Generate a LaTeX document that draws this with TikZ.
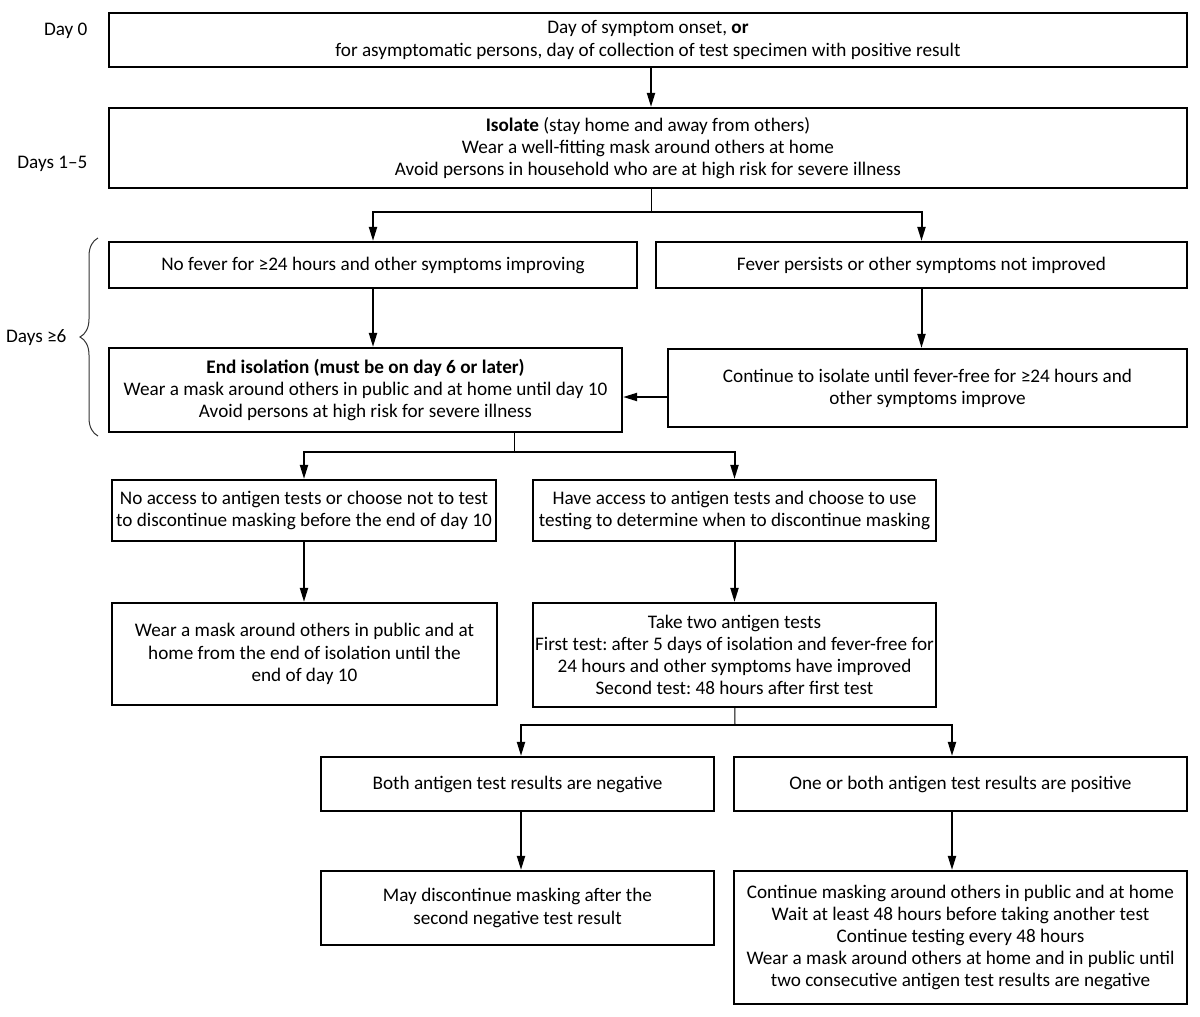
\documentclass[tikz,border=0pt]{standalone}
\usepackage{fontspec}
\setmainfont{Carlito}
\frenchspacing
\usetikzlibrary{arrows.meta,decorations.pathreplacing}

\begin{document}
\begin{tikzpicture}[x=1pt,y=-1pt,
  every node/.style={font=\fontsize{19.2}{22.2}\selectfont},
  box/.style={draw,line width=2.2pt,align=center,inner sep=0pt},
  arr/.style={line width=2pt,-{Triangle[width=8pt,length=14pt]}},
  stem/.style={line width=1pt}]
\useasboundingbox (0,0) rectangle (1200,1017);
% day labels
\node[anchor=east] (day0) at (91,31) {Day 0};
\node[anchor=east] (day15) at (91,164) {Days 1--5};
\node[anchor=east] (day6) at (70,338) {Days ≥6};
\draw[decorate,decoration={brace,amplitude=18pt,mirror},line width=1pt,black!80] (98,238) -- (98,436);
% boxes
\node[box,minimum width=1078,minimum height=54] (onset) at (648,40) {Day of symptom onset, \textbf{or}\\for asymptomatic persons, day of collection of test specimen with positive result};
\node[box,minimum width=1078,minimum height=80] (iso) at (648,148) {\textbf{Isolate} (stay home and away from others)\\Wear a well-fitting mask around others at home\\Avoid persons in household who are at high risk for severe illness};
\node[box,minimum width=528,minimum height=46] (nofever) at (373,265) {No fever for ≥24 hours and other symptoms improving};
\node[box,minimum width=531,minimum height=46] (fever) at (921.5,265) {Fever persists or other symptoms not improved};
\node[box,minimum width=513,minimum height=84] (endiso) at (365.5,390) {\textbf{End isolation (must be on day 6 or later)}\\Wear a mask around others in public and at home until day 10\\Avoid persons at high risk for severe illness};
\node[box,minimum width=519,minimum height=78] (cont) at (927.5,388) {Continue to isolate until fever-free for ≥24 hours and\\other symptoms improve};
\node[box,minimum width=384,minimum height=61] (noaccess) at (304,510.5) {No access to antigen tests or choose not to test\\to discontinue masking before the end of day 10};
\node[box,minimum width=403,minimum height=61] (access) at (734.5,510.5) {Have access to antigen tests and choose to use\\testing to determine when to discontinue masking};
\node[box,minimum width=385,minimum height=102] (mask10) at (304.5,654) {Wear a mask around others in public and at\\home from the end of isolation until the\\end of day 10};
\node[box,minimum width=403,minimum height=104] (twotests) at (734.5,655) {Take two antigen tests\\First test: after 5 days of isolation and fever-free for\\24 hours and other symptoms have improved\\Second test: 48 hours after first test};
\node[box,minimum width=393,minimum height=54] (neg) at (517.5,784) {Both antigen test results are negative};
\node[box,minimum width=453,minimum height=54] (pos) at (960.5,784) {One or both antigen test results are positive};
\node[box,minimum width=393,minimum height=74] (maydisc) at (517.5,908) {May discontinue masking after the\\second negative test result};
\node[box,minimum width=453,minimum height=133] (contmask) at (960.5,937.5) {Continue masking around others in public and at home\\Wait at least 48 hours before taking another test\\Continue testing every 48 hours\\Wear a mask around others at home and in public until\\two consecutive antigen test results are negative};
% branch points
\coordinate (split1) at (651,212);
\coordinate (split2) at (514,452);
\coordinate (split3) at (735,725);
% connectors
\draw[arr] ([xshift=3pt]onset.south) -- ([xshift=3pt]iso.north);
\draw[stem] ([xshift=3pt]iso.south) -- (split1);
\draw[arr] (split1) -| (nofever);
\draw[arr] (split1) -| (fever);
\draw[arr] (nofever) -- (endiso.north -| nofever);
\draw[arr] (fever) -- (cont.north -| fever);
\draw[arr] ([yshift=-9pt]cont.west) -- ([yshift=-9pt]cont.west -| endiso.east);
\draw[stem] (split2 |- endiso.south) -- (split2);
\draw[arr] (split2) -| (noaccess);
\draw[arr] (split2) -| (access);
\draw[arr] (noaccess) -- (mask10.north -| noaccess);
\draw[arr] (access) -- (twotests);
\draw[stem] (twotests) -- (split3);
\draw[arr] (split3) -| ([xshift=3.5pt]neg.north);
\draw[arr] (split3) -| ([xshift=-8.5pt]pos.north);
\draw[arr] ([xshift=3.5pt]neg.south) -- ([xshift=3.5pt]maydisc.north);
\draw[arr] ([xshift=-8.5pt]pos.south) -- ([xshift=-8.5pt]contmask.north);
\end{tikzpicture}
\end{document}
